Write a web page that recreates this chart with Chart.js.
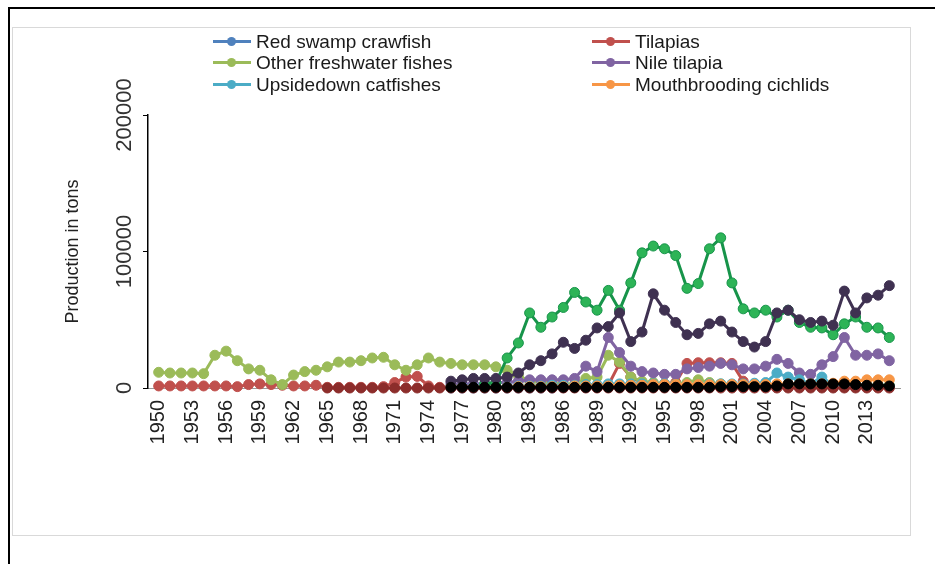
<!DOCTYPE html>
<html>
<head>
<meta charset="utf-8">
<script src="https://cdn.jsdelivr.net/npm/chart.js@4.4.1/dist/chart.umd.min.js"></script>
<style>
  body { margin: 0; background: #fff; font-family: "Liberation Sans", Arial, sans-serif; }
  #frame { position: absolute; left: 8px; top: 7px; width: 927px; height: 557px; border-top: 2px solid #000; border-left: 2px solid #000; }
  #box { position: absolute; left: 12px; top: 27px; width: 897px; height: 507px; border: 1px solid #d9d9d9; }
  #chart { position: absolute; left: 0; top: 0; }
  .item { position: absolute; height: 21px; display: flex; align-items: center; font-size: 19px; color: #1a1a1a; white-space: nowrap; }
  .sw { position: relative; width: 38px; height: 3px; margin-right: 5px; }
  .sw i { position: absolute; left: 14px; top: -3px; width: 9px; height: 9px; border-radius: 50%; }
</style>
</head>
<body>
<div id="frame"></div>
<div id="box"></div>
<canvas id="chart" width="935" height="564"></canvas>
<div id="legend"></div>
<script>
const years = [
  1950, 1951, 1952, 1953, 1954, 1955, 1956, 1957, 1958, 1959,
  1960, 1961, 1962, 1963, 1964, 1965, 1966, 1967, 1968, 1969,
  1970, 1971, 1972, 1973, 1974, 1975, 1976, 1977, 1978, 1979,
  1980, 1981, 1982, 1983, 1984, 1985, 1986, 1987, 1988, 1989,
  1990, 1991, 1992, 1993, 1994, 1995, 1996, 1997, 1998, 1999,
  2000, 2001, 2002, 2003, 2004, 2005, 2006, 2007, 2008, 2009,
  2010, 2011, 2012, 2013, 2014, 2015
];
const xTickYears = [1950, 1953, 1956, 1959, 1962, 1965, 1968, 1971, 1974, 1977, 1980,
  1983, 1986, 1989, 1992, 1995, 1998, 2001, 2004, 2007, 2010, 2013];
const yTicks = [0, 100000, 200000];

// one value per year, null = no data
const redSwampCrawfish = [
  null, null, null, null, null, null, null, null, null, null,
  null, null, null, null, null, null, null, null, null, null,
  null, null, null, null, null, null, 0, 0, 0, 0,
  0, 0, 0, 0, 0, 0, 200, 300, 300, 400,
  500, 500, 600, 600, 700, 700, 800, 800, 900, 900,
  1000, 1000, 1100, 1200, 1500, 2000, 1500, 1200, 1000, 900,
  800, 800, 900, 900, 1000, 1000
];
const tilapias = [
  1500, 1500, 1500, 1500, 1500, 1500, 1500, 1000, 2500, 3000,
  2500, 2000, 1500, 1500, 2000, 500, 500, 500, 500, 500,
  1000, 4000, 8000, 8500, 1500, 500, 500, 500, 500, 500,
  500, 500, 500, 500, 500, 500, 500, 500, 1000, 1500,
  2000, 18000, 8000, 4000, 3000, 3000, 4000, 18000, 18500, 18500,
  18500, 18000, 5000, 2000, 2000, 1500, 1500, 1000, 1000, 1000,
  1000, 1000, 1000, 1000, 1000, 1000
];
const otherFreshwater = [
  11500, 11000, 11000, 11000, 10500, 24000, 27000, 20000, 14000, 13000,
  6000, 2500, 9500, 12000, 13000, 15500, 19000, 19000, 20000, 22000,
  22500, 17000, 13000, 17000, 22000, 19000, 18000, 17000, 17000, 17000,
  15500, 13000, 9000, 5000, 4000, 4000, 3000, 3000, 7000, 8000,
  24000, 19000, 8000, 5000, 4000, 3000, 3000, 4000, 6000, 4000,
  3000, 2500, 2500, 2000, 2000, 2000, 2000, 2000, 2000, 2000,
  2000, 2000, 2000, 2000, 2000, 2000
];
const nileTilapia = [
  null, null, null, null, null, null, null, null, null, null,
  null, null, null, null, null, null, null, null, null, null,
  null, null, null, null, null, null, 3000, 3000, 3000, 3000,
  4000, 4000, 5000, 6000, 6000, 6000, 6000, 7000, 16000, 12000,
  37000, 26000, 16000, 12000, 11000, 10000, 10000, 14000, 15000, 16000,
  18000, 17000, 14000, 14000, 16000, 21000, 18000, 11000, 10000, 17000,
  23000, 37000, 24000, 24000, 25000, 20000
];
const upsidedownCatfishes = [
  null, null, null, null, null, null, null, null, null, null,
  null, null, null, null, null, null, null, null, null, null,
  null, null, null, null, null, null, 1000, 1000, 1000, 1000,
  1000, 1000, 1500, 1500, 1500, 2000, 2000, 2000, 2500, 2500,
  3000, 3000, 3000, 3000, 3000, 3000, 2500, 2500, 2500, 3000,
  3000, 3000, 3000, 3500, 4000, 11000, 8000, 6000, 3000, 8000,
  2000, 1500, 1500, 1500, 1500, 1500
];
const mouthbroodingCichlids = [
  null, null, null, null, null, null, null, null, null, null,
  null, null, null, null, null, null, null, null, null, null,
  null, null, null, null, null, null, 500, 500, 500, 500,
  500, 500, 1000, 1000, 1000, 1000, 1000, 1500, 1500, 1500,
  1500, 2000, 2000, 2000, 2500, 2500, 2500, 2500, 2500, 2500,
  2500, 2500, 2500, 2500, 2500, 3000, 3000, 3000, 3000, 3000,
  3500, 5000, 5000, 6000, 6000, 6000
];
// series below are drawn but fall outside the visible legend
const tilapiasNei = [
  null, null, null, null, null, null, null, null, null, null,
  null, null, null, null, null, 0, 0, 0, 0, 0,
  0, 0, 0, 0, 0, 0, 0, 0, 0, 0,
  0, 0, 0, 0, 0, 0, 0, 0, 0, 0,
  0, 0, 0, 0, 0, 0, 0, 0, 0, 0,
  0, 0, 0, 0, 0, 0, 0, 0, 0, 0,
  0, 0, 0, 0, 0, 0
];
const freshwaterFishesNei = [
  null, null, null, null, null, null, null, null, null, null,
  null, null, null, null, null, null, null, null, null, null,
  null, null, null, null, null, null, null, null, null, 3000,
  4000, 22000, 33000, 55000, 44500, 52000, 59000, 70000, 63000, 57000,
  71500, 57000, 77000, 99000, 104000, 102000, 97000, 73000, 76500, 102000,
  110000, 77000, 58000, 55000, 57000, 52000, 57000, 48000, 44500, 44000,
  39000, 47000, 52000, 44500, 44000, 37000
];
const cichlidsNei = [
  null, null, null, null, null, null, null, null, null, null,
  null, null, null, null, null, null, null, null, null, null,
  null, null, null, null, null, null, 5000, 6000, 7000, 7000,
  7000, 8000, 11000, 17000, 20000, 25000, 33500, 29000, 35000, 44000,
  45000, 55000, 34000, 41000, 69000, 57000, 48000, 39000, 40000, 47000,
  49000, 41000, 34000, 30000, 34000, 55000, 57000, 50000, 48000, 49000,
  46000, 71000, 55000, 66000, 68000, 75000
];
const otherSpecies = [
  null, null, null, null, null, null, null, null, null, null,
  null, null, null, null, null, null, null, null, null, null,
  null, null, null, null, null, null, 500, 500, 500, 500,
  500, 500, 500, 500, 500, 500, 500, 500, 500, 500,
  500, 500, 500, 500, 500, 500, 500, 500, 500, 500,
  1000, 1000, 1000, 1000, 1000, 1500, 3000, 3000, 3000, 3000,
  3000, 3000, 2500, 2000, 2000, 1500
];

const series = [
  { name: 'Red swamp crawfish', values: redSwampCrawfish, color: '#4F81BD', legend: true },
  { name: 'Tilapias', values: tilapias, color: '#C0504D', legend: true },
  { name: 'Other freshwater fishes', values: otherFreshwater, color: '#9BBB59', legend: true },
  { name: 'Nile tilapia', values: nileTilapia, color: '#8064A2', legend: true },
  { name: 'Upsidedown catfishes', values: upsidedownCatfishes, color: '#4BACC6', legend: true },
  { name: 'Mouthbrooding cichlids', values: mouthbroodingCichlids, color: '#F79646', legend: true },
  { name: 'Tilapias nei', values: tilapiasNei, color: '#8C2D2B' },
  { name: 'Freshwater fishes nei', values: freshwaterFishesNei, color: '#17944A', fill: '#2DB457' },
  { name: 'Cichlids nei', values: cichlidsNei, color: '#3F3151' },
  { name: 'Other species', values: otherSpecies, color: '#000000' }
];

const datasets = series.map((s, i) => ({
  label: s.name,
  data: years.map((yr, j) => ({ x: yr, y: s.values[j] })),
  borderColor: s.color,
  backgroundColor: s.fill || s.color,
  pointBorderColor: s.color,
  pointBackgroundColor: s.fill || s.color,
  borderWidth: 3,
  pointRadius: 5,
  pointBorderWidth: 1,
  tension: 0,
  spanGaps: false,
  clip: false,
  order: series.length - i   // later series on top, like Excel
}));

// legend (2 columns x 3 rows)
const legendDiv = document.getElementById('legend');
const colX = [213, 592];
const rowY = [31, 52, 74];
series.filter(s => s.legend).forEach((s, i) => {
  const el = document.createElement('div');
  el.className = 'item';
  el.style.left = colX[i % 2] + 'px';
  el.style.top = rowY[Math.floor(i / 2)] + 'px';
  el.innerHTML = '<span class="sw" style="background:' + s.color + '"><i style="background:' + s.color + '"></i></span>' + s.name;
  legendDiv.appendChild(el);
});

new Chart(document.getElementById('chart'), {
  type: 'line',
  data: { datasets },
  options: {
    responsive: false,
    animation: false,
    layout: { padding: { left: 0, top: 115, right: 35, bottom: 0 } },
    plugins: { legend: { display: false }, tooltip: { enabled: false } },
    scales: {
      x: {
        type: 'linear',
        min: 1949.05,
        max: 2015.95,
        afterBuildTicks: s => { s.ticks = xTickYears.map(v => ({ value: v })); },
        afterFit: s => { s.height = 176; },
        grid: { display: false, drawTicks: false },
        border: { display: true, color: '#999' },
        ticks: {
          autoSkip: false,
          minRotation: 90,
          maxRotation: 90,
          padding: 12,
          color: '#222',
          font: { family: '"Liberation Sans", Arial, sans-serif', size: 20 },
          callback: v => String(v)
        }
      },
      y: {
        min: 0,
        max: 200000,
        afterBuildTicks: s => { s.ticks = yTicks.map(v => ({ value: v })); },
        afterFit: s => { s.width = 148; },
        grid: { drawOnChartArea: false, drawTicks: true, tickLength: 5, color: '#000' },
        border: { display: true, color: '#000', width: 1.5 },
        title: {
          display: true,
          text: 'Production in tons',
          color: '#222',
          font: { family: '"Liberation Sans", Arial, sans-serif', size: 18 },
          padding: { top: 62, bottom: 0 }
        },
        ticks: {
          minRotation: 90,
          maxRotation: 90,
          crossAlign: 'center',
          padding: -19,
          color: '#333',
          font: { family: '"Liberation Sans", Arial, sans-serif', size: 22 },
          callback: v => String(v)
        }
      }
    }
  }
});
</script>
</body>
</html>
